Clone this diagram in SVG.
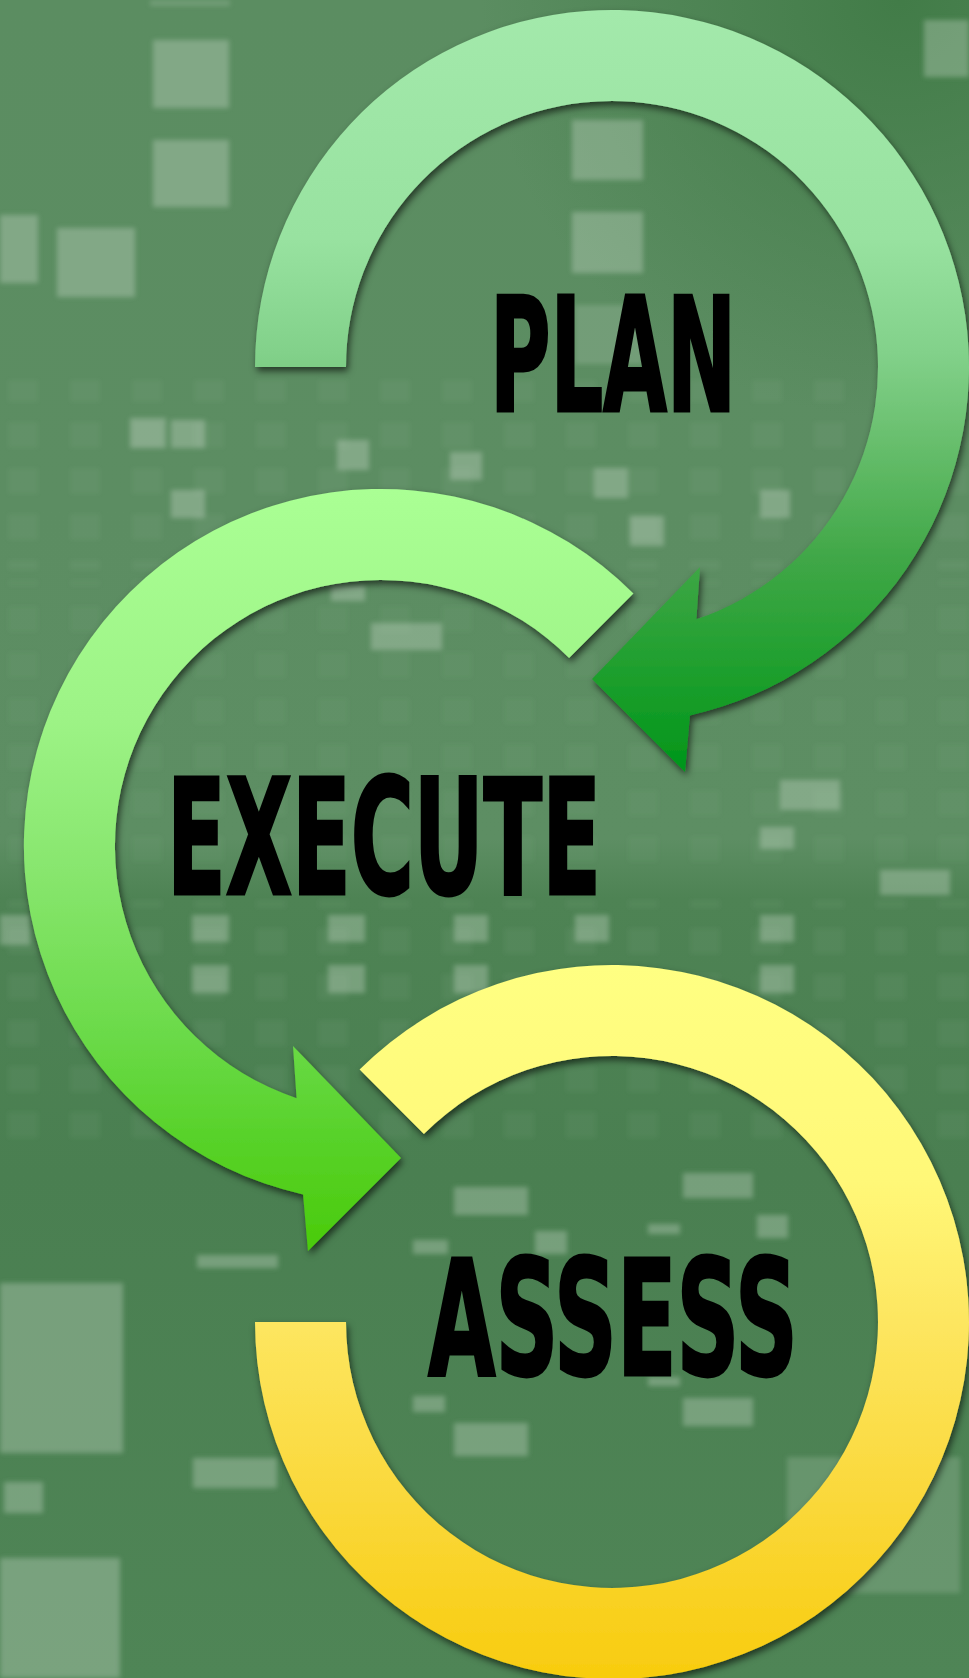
<svg xmlns="http://www.w3.org/2000/svg" width="969" height="1678" viewBox="0 0 969 1678">
  <defs>
    <linearGradient id="bg" x1="0" y1="0" x2="0" y2="1678" gradientUnits="userSpaceOnUse">
      <stop offset="0" stop-color="#5b8d61"/>
      <stop offset="0.3" stop-color="#5c8d62"/>
      <stop offset="0.5" stop-color="#5d8e63"/>
      <stop offset="0.535" stop-color="#4e8354"/>
      <stop offset="0.7" stop-color="#4a7f51"/>
      <stop offset="1" stop-color="#4f8556"/>
    </linearGradient>
    <radialGradient id="corner" cx="900" cy="0" r="420" gradientUnits="userSpaceOnUse">
      <stop offset="0" stop-color="#3f7a45" stop-opacity="0.9"/>
      <stop offset="1" stop-color="#3f7a45" stop-opacity="0"/>
    </radialGradient>
    <pattern id="win" x="0" y="0" width="62" height="46" patternUnits="userSpaceOnUse">
      <rect x="8" y="8" width="30" height="26" fill="#cfe0cf" opacity="0.06"/>
    </pattern>
    <linearGradient id="gPlan" x1="0" y1="10" x2="0" y2="772" gradientUnits="userSpaceOnUse">
      <stop offset="0" stop-color="#a3e9ab"/>
      <stop offset="0.3" stop-color="#98e2a0"/>
      <stop offset="0.45" stop-color="#82d18a"/>
      <stop offset="0.55" stop-color="#6cc171"/>
      <stop offset="0.72" stop-color="#40a747"/>
      <stop offset="0.85" stop-color="#22a030"/>
      <stop offset="1" stop-color="#00961a"/>
    </linearGradient>
    <linearGradient id="gExec" x1="0" y1="489" x2="0" y2="1251" gradientUnits="userSpaceOnUse">
      <stop offset="0" stop-color="#aaff94"/>
      <stop offset="0.3" stop-color="#9df386"/>
      <stop offset="0.5" stop-color="#88e66e"/>
      <stop offset="0.7" stop-color="#6ddb4c"/>
      <stop offset="0.85" stop-color="#58d22a"/>
      <stop offset="1" stop-color="#4acb0a"/>
    </linearGradient>
    <linearGradient id="gAssess" x1="0" y1="965" x2="0" y2="1679" gradientUnits="userSpaceOnUse">
      <stop offset="0" stop-color="#ffff82"/>
      <stop offset="0.3" stop-color="#fff878"/>
      <stop offset="0.5" stop-color="#fde660"/>
      <stop offset="0.75" stop-color="#fad83a"/>
      <stop offset="1" stop-color="#f8cc0e"/>
    </linearGradient>
    <filter id="blur" x="-20%" y="-20%" width="140%" height="140%">
      <feGaussianBlur stdDeviation="2.5"/>
    </filter>
    <filter id="shadow" x="-10%" y="-10%" width="120%" height="120%">
      <feDropShadow dx="2" dy="4" stdDeviation="3.5" flood-color="#000" flood-opacity="0.6"/>
    </filter>
  </defs>
  <style>
    .lbl { font-family: "Liberation Sans Narrow", "DejaVu Sans Condensed", "Liberation Sans", sans-serif; font-weight: bold; fill: #000; stroke: #000; stroke-width: 3; stroke-linejoin: miter; }
    .w { fill: #d2e2d2; opacity: 0.33; }
    .wf { fill: #d2e2d2; opacity: 0.2; }
  </style>

  <g id="background">
    <rect x="0" y="0" width="969" height="1678" fill="url(#bg)"/>
    <rect x="0" y="0" width="969" height="500" fill="url(#corner)"/>
    <g filter="url(#blur)">
      <rect x="0" y="380" width="969" height="190" fill="url(#win)"/>
      <rect x="0" y="580" width="969" height="300" fill="url(#win)" opacity="0.7"/>
      <rect x="0" y="900" width="969" height="240" fill="url(#win)"/>
      <rect class="w" x="153" y="40" width="76" height="68"/>
      <rect class="w" x="153" y="140" width="76" height="67"/>
      <rect class="w" x="0" y="215" width="38" height="68"/>
      <rect class="w" x="57" y="228" width="78" height="69"/>
      <rect class="wf" x="150" y="0" width="80" height="6"/>
      <rect class="w" x="572" y="120" width="71" height="60"/>
      <rect class="w" x="572" y="212" width="71" height="61"/>
      <rect class="wf" x="575" y="305" width="68" height="59"/>
      <rect class="w" x="924" y="20" width="45" height="57"/>
      <rect class="w" x="130" y="418" width="36" height="30"/>
      <rect class="w" x="171" y="420" width="34" height="28"/>
      <rect class="w" x="337" y="440" width="32" height="30"/>
      <rect class="w" x="450" y="452" width="32" height="28"/>
      <rect class="w" x="594" y="468" width="34" height="30"/>
      <rect class="w" x="760" y="490" width="30" height="28"/>
      <rect class="w" x="171" y="490" width="34" height="28"/>
      <rect class="w" x="630" y="516" width="34" height="30"/>
      <rect class="w" x="371" y="623" width="71" height="27"/>
      <rect class="w" x="331" y="585" width="34" height="16"/>
      <rect class="w" x="760" y="827" width="34" height="22"/>
      <rect class="w" x="780" y="780" width="60" height="30"/>
      <rect class="w" x="880" y="870" width="70" height="25"/>
      <rect class="w" x="192" y="915" width="37" height="27"/>
      <rect class="w" x="328" y="915" width="37" height="27"/>
      <rect class="w" x="454" y="915" width="34" height="27"/>
      <rect class="w" x="575" y="915" width="34" height="27"/>
      <rect class="w" x="760" y="915" width="34" height="27"/>
      <rect class="w" x="192" y="965" width="37" height="28"/>
      <rect class="w" x="328" y="965" width="37" height="28"/>
      <rect class="w" x="454" y="965" width="34" height="28"/>
      <rect class="w" x="760" y="965" width="34" height="28"/>
      <rect class="w" x="0" y="915" width="30" height="30"/>
      <rect class="w" x="454" y="1187" width="74" height="28"/>
      <rect class="w" x="683" y="1173" width="70" height="25"/>
      <rect class="w" x="757" y="1215" width="31" height="23"/>
      <rect class="w" x="535" y="1231" width="32" height="23"/>
      <rect class="w" x="648" y="1224" width="32" height="10"/>
      <rect class="w" x="413" y="1240" width="35" height="14"/>
      <rect class="w" x="683" y="1398" width="70" height="28"/>
      <rect class="w" x="454" y="1423" width="74" height="33"/>
      <rect class="w" x="413" y="1396" width="32" height="16"/>
      <rect class="w" x="648" y="1377" width="32" height="9"/>
      <rect class="w" x="0" y="1283" width="123" height="170"/>
      <rect class="w" x="0" y="1558" width="120" height="120"/>
      <rect class="w" x="4" y="1482" width="39" height="31"/>
      <rect class="w" x="193" y="1458" width="84" height="30"/>
      <rect class="w" x="197" y="1255" width="81" height="13"/>
      <rect class="wf" x="787" y="1457" width="173" height="136"/>
    </g>
  </g>

  <g id="connectors">
    <path id="arc-plan" filter="url(#shadow)" fill="url(#gPlan)" d="M 255 367 A 357 357 0 1 1 689.9 715.4 L 685 772 L 592 679 L 700 567 L 696.4 619.2 A 266 266 0 1 0 346 367 Z"/>
    <path id="arc-execute" filter="url(#shadow)" fill="url(#gExec)" d="M 633.4 593.6 A 357 357 0 1 0 303.1 1194.4 L 308 1251 L 401 1158 L 293 1046 L 296.6 1098.2 A 266 266 0 1 1 569.1 657.9 Z"/>
    <path id="arc-assess" filter="url(#shadow)" fill="url(#gAssess)" d="M 359.6 1069.6 A 357 357 0 1 1 255 1322 L 346 1322 A 266 266 0 1 0 423.9 1133.9 Z"/>
  </g>

  <g id="node-plan">
    <text class="lbl" x="490" y="411" font-size="158" textLength="246" lengthAdjust="spacingAndGlyphs">PLAN</text>
  </g>
  <g id="node-execute">
    <text class="lbl" x="167" y="894" font-size="161" textLength="434" lengthAdjust="spacingAndGlyphs">EXECUTE</text>
  </g>
  <g id="node-assess">
    <text class="lbl" x="428" y="1375" font-size="161" textLength="370" lengthAdjust="spacingAndGlyphs">ASSESS</text>
  </g>
</svg>
